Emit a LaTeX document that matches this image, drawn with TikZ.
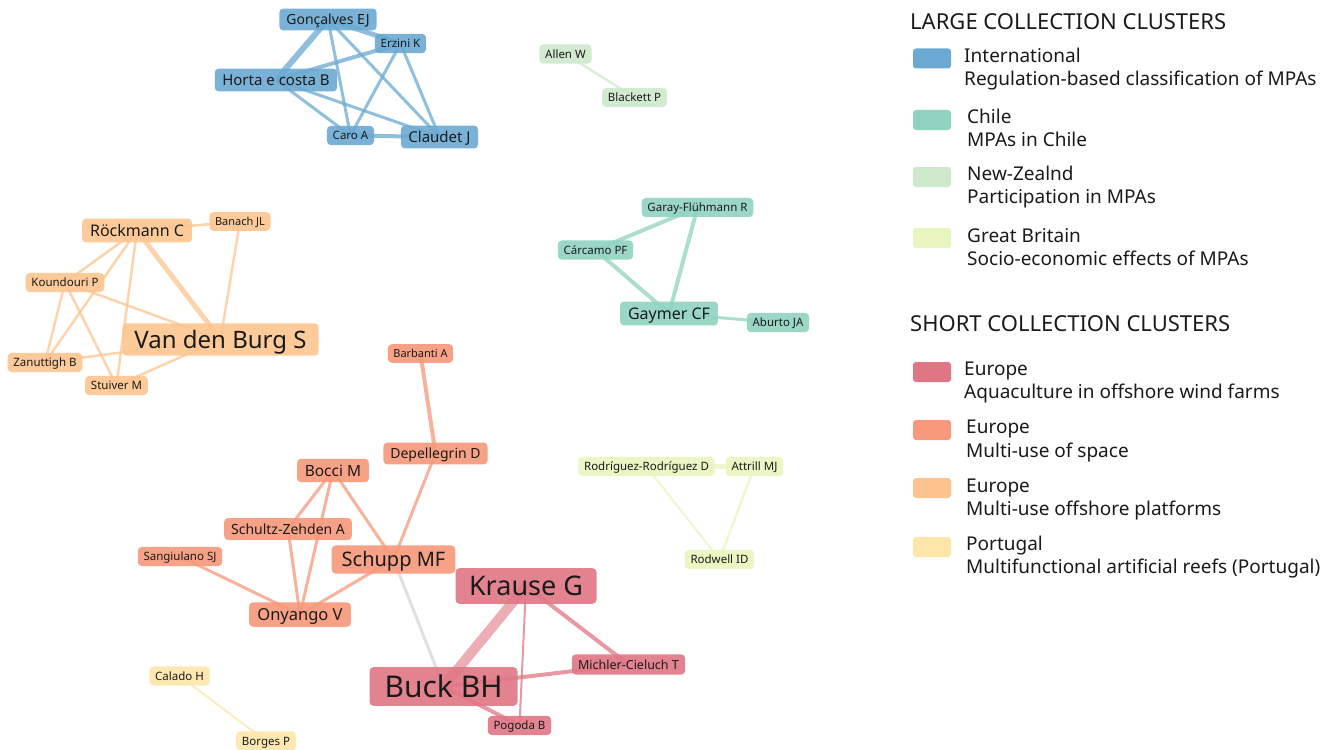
\documentclass[tikz,border=0pt]{standalone}
\usepackage{fontspec}
\setmainfont{Noto Sans}
\usetikzlibrary{backgrounds}
\definecolor{intlcol}{HTML}{6BA9D2}
\definecolor{chilecol}{HTML}{90D3BF}
\definecolor{nzcol}{HTML}{CDE8CB}
\definecolor{gbcol}{HTML}{E8F5BE}
\definecolor{aquacol}{HTML}{E07684}
\definecolor{spacecol}{HTML}{F6987A}
\definecolor{platfcol}{HTML}{FDC48F}
\definecolor{portcol}{HTML}{FDE6AA}
\definecolor{inkcol}{HTML}{1A1A1A}
\tikzset{
  fs/.code      = {\pgfmathsetmacro\fsh{0.72*#1}\pgfmathsetmacro\fsy{3.5+0.17*#1}%
                   \pgfmathsetmacro\fsx{0.5*#1}%
                   \tikzset{font=\fontsize{#1}{#1}\selectfont, text height=\fsh pt,
                            text depth=0pt, inner xsep=\fsx pt, inner ysep=\fsy pt}},
  author/.style = {shape=rectangle, rounded corners=4pt,
                   text=inkcol, fill opacity=0.9, text opacity=1, fs=11.5},
  intl/.style   = {author, fill=intlcol},
  chile/.style  = {author, fill=chilecol},
  nz/.style     = {author, fill=nzcol},
  gb/.style     = {author, fill=gbcol},
  aqua/.style   = {author, fill=aquacol},
  space/.style  = {author, fill=spacecol},
  platf/.style  = {author, fill=platfcol},
  port/.style   = {author, fill=portcol},
  link/.style   = {line width=#1, draw opacity=0.75},
  link/.default = 3pt,
  swatch/.style = {rounded corners=3pt, minimum width=38pt, minimum height=20pt, inner sep=0pt},
  heading/.style= {anchor=base west, inner sep=0pt, text=inkcol, font=\fontsize{22}{22}\selectfont},
  entry/.style  = {anchor=base west, inner sep=0pt, text=inkcol, font=\fontsize{19}{19}\selectfont}
}

\begin{document}
\begin{tikzpicture}[x=1pt, y=-1pt]
  \useasboundingbox (0,0) rectangle (1340,749);

  % international
  \node [intl, fs=14]   (gon)  at (328,19.5)  {Gonçalves EJ};
  \node [intl]          (erz)  at (400.5,43.5) {Erzini K};
  \node [intl, fs=15]   (hor)  at (276,80)    {Horta e costa B};
  \node [intl]          (caro) at (350.5,135.5) {Caro A};
  \node [intl, fs=15]   (cla)  at (439.5,137) {Claudet J};

  % new zealand
  \node [nz]            (allen) at (565.5,54) {Allen W};
  \node [nz]            (black) at (634.5,97.5) {Blackett P};

  % chile
  \node [chile]         (garay) at (697.5,207.5) {Garay-Flühmann R};
  \node [chile]         (carc)  at (595.5,250) {Cárcamo PF};
  \node [chile, fs=16]  (gaym)  at (669,313.5) {Gaymer CF};
  \node [chile]         (abur)  at (778,322.5) {Aburto JA};

  % offshore platforms
  \node [platf, fs=16]  (rock)   at (137,230.5) {Röckmann C};
  \node [platf, fs=11]  (banach) at (240,221.5) {Banach JL};
  \node [platf]         (kound)  at (65,282.5) {Koundouri P};
  \node [platf, fs=24]  (vdb)    at (220.5,339.5) {Van den Burg S};
  \node [platf]         (zan)    at (45,362.5) {Zanuttigh B};
  \node [platf]         (stu)    at (116.5,385.5) {Stuiver M};

  % multi-use of space
  \node [space, fs=11]  (barb)   at (420.5,353.5) {Barbanti A};
  \node [space, fs=14]  (dep)    at (435.5,453.5) {Depellegrin D};
  \node [space, fs=15.5] (bocci) at (333,470.5) {Bocci M};
  \node [space, fs=14]  (schz)   at (288,529) {Schultz-Zehden A};
  \node [space]         (sang)   at (180,556.5) {Sangiulano SJ};
  \node [space, fs=20]  (schupp) at (393.5,559.5) {Schupp MF};
  \node [space, fs=16.5] (ony)   at (300,614.5) {Onyango V};

  % aquaculture
  \node [aqua, fs=27]   (krause) at (526,586) {Krause G};
  \node [aqua, fs=30]   (buck)   at (443.5,686.5) {Buck BH};
  \node [aqua, fs=12.5] (mich)   at (628.5,664.5) {Michler-Cieluch T};
  \node [aqua]          (pog)    at (519.5,725.5) {Pogoda B};

  % great britain
  \node [gb]            (rr)   at (646.5,466.5) {Rodríguez-Rodríguez D};
  \node [gb]            (attr) at (754.5,466.5) {Attrill MJ};
  \node [gb]            (rodw) at (719.5,559.5) {Rodwell ID};

  % portugal
  \node [port]          (calado) at (179.5,676) {Calado H};
  \node [port]          (borges) at (266,741) {Borges P};

  \begin{pgfonlayer}{background}
    \draw [draw=intlcol]
      (gon.center) edge [link=5pt] (erz.center)
      (gon.center) edge [link=6pt] (hor.center)
      (gon.center) edge [link] (caro.center)
      (gon.center) edge [link] (cla.center)
      (erz.center) edge [link=4pt] (hor.center)
      (erz.center) edge [link] (caro.center)
      (erz.center) edge [link] (cla.center)
      (hor.center) edge [link] (caro.center)
      (hor.center) edge [link] (cla.center)
      (caro.center) edge [link=4pt] (cla.center);
    \draw [draw=nzcol] (allen.center) edge [link=2.5pt] (black.center);
    \draw [draw=chilecol]
      (garay.center) edge [link=4pt] (carc.center)
      (garay.center) edge [link=4pt] (gaym.center)
      (carc.center) edge [link=4pt] (gaym.center)
      (gaym.center) edge [link] (abur.center);
    \draw [draw=platfcol]
      (rock.center) edge [link=5pt] (vdb.center)
      (rock.center) edge [link=2.5pt] (banach.center)
      (rock.center) edge [link=2.5pt] (kound.center)
      (rock.center) edge [link=2.5pt] (zan.center)
      (rock.center) edge [link=2.5pt] (stu.center)
      (banach.center) edge [link=2.5pt] (vdb.center)
      (kound.center) edge [link=2.5pt] (vdb.center)
      (kound.center) edge [link=2.5pt] (zan.center)
      (kound.center) edge [link=2.5pt] (stu.center)
      (zan.center) edge [link=2.5pt] (vdb.center)
      (stu.center) edge [link=2.5pt] (vdb.center);
    \draw [draw=spacecol]
      (barb.center) edge [link=4pt] (dep.center)
      (dep.center) edge [link] (schupp.center)
      (bocci.center) edge [link] (schz.center)
      (bocci.center) edge [link] (ony.center)
      (bocci.center) edge [link] (schupp.center)
      (schz.center) edge [link] (ony.center)
      (sang.center) edge [link] (ony.center)
      (schupp.center) edge [link] (ony.center);
    \draw [draw=black!12] (schupp.center) edge [line width=3pt] (buck.center);
    \draw [draw=aquacol]
      (krause.center) edge [link=10pt, draw opacity=0.6] (buck.center)
      (krause.center) edge [link=4pt] (mich.center)
      (krause.center) edge [link=2pt] (pog.center)
      (buck.center) edge [link=4pt] (mich.center)
      (buck.center) edge [link=4pt] (pog.center);
    \draw [draw=gbcol]
      (rr.center) edge [link=5pt] (attr.center)
      (rr.center) edge [link=2pt] (rodw.center)
      (attr.center) edge [link=2.5pt] (rodw.center);
    \draw [draw=portcol] (calado.center) edge [link=2pt] (borges.center);
  \end{pgfonlayer}

  % legend
  \node [heading] (lhead) at (910,30) {LARGE COLLECTION CLUSTERS};
  \node [swatch, fill=intlcol]  (sw1) at (932,58.5) {};
  \node [entry] (l1a) at (964,62.5) {International};
  \node [entry] (l1b) at (964,85.5) {Regulation-based classification of MPAs};
  \node [swatch, fill=chilecol] (sw2) at (932,120) {};
  \node [entry] (l2a) at (967,123.6) {Chile};
  \node [entry] (l2b) at (967,146.5) {MPAs in Chile};
  \node [swatch, fill=nzcol]    (sw3) at (932,177) {};
  \node [entry] (l3a) at (967,180.5) {New-Zealnd};
  \node [entry] (l3b) at (967,203.6) {Participation in MPAs};
  \node [swatch, fill=gbcol]    (sw4) at (932,238) {};
  \node [entry] (l4a) at (967,242) {Great Britain};
  \node [entry] (l4b) at (967,265.3) {Socio-economic effects of MPAs};

  \node [heading] (shead) at (910,331) {SHORT COLLECTION CLUSTERS};
  \node [swatch, fill=aquacol]  (sw5) at (932,372) {};
  \node [entry] (l5a) at (964,375.3) {Europe};
  \node [entry] (l5b) at (964,398.6) {Aquaculture in offshore wind farms};
  \node [swatch, fill=spacecol] (sw6) at (932,430) {};
  \node [entry] (l6a) at (966,433.6) {Europe};
  \node [entry] (l6b) at (966,457) {Multi-use of space};
  \node [swatch, fill=platfcol] (sw7) at (932,488) {};
  \node [entry] (l7a) at (966,492) {Europe};
  \node [entry] (l7b) at (966,515.3) {Multi-use offshore platforms};
  \node [swatch, fill=portcol]  (sw8) at (932,547) {};
  \node [entry] (l8a) at (966,550.3) {Portugal};
  \node [entry] (l8b) at (966,573.6) {Multifunctional artificial reefs (Portugal)};
\end{tikzpicture}
\end{document}
